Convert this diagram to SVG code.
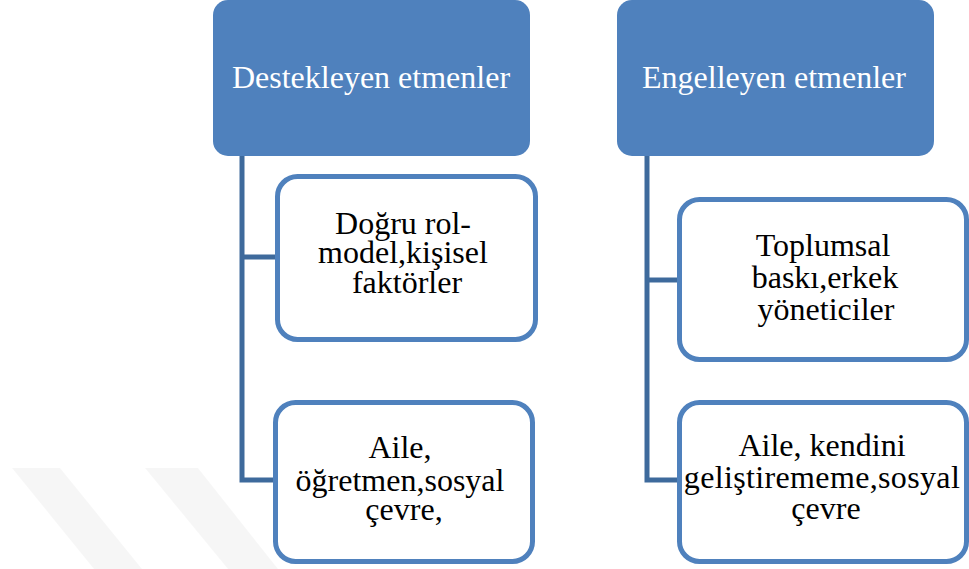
<svg xmlns="http://www.w3.org/2000/svg" width="969" height="569" viewBox="0 0 969 569">
  <style>
    .head { fill: #4F81BD; }
    .head-text { fill: #FFFFFF; font-family: "Liberation Serif", "Times New Roman", serif; font-size: 32px; text-anchor: middle; }
    .item { fill: #FFFFFF; stroke: #4F81BD; stroke-width: 5; }
    .item-text { fill: #000000; font-family: "Liberation Serif", "Times New Roman", serif; font-size: 32px; text-anchor: middle; }
    .link { fill: none; stroke: #3E6A9C; stroke-width: 5; stroke-linejoin: miter; }
    .mark { fill: #000000; opacity: 0.035; }
  </style>

  <rect width="969" height="569" fill="#FFFFFF"/>

  <!-- faint background stripes -->
  <g id="background">
    <polygon class="mark" points="12,468 60,468 142,569 94,569"/>
    <polygon class="mark" points="145,468 198,468 278,569 228,569"/>
  </g>

  <!-- connectors -->
  <g id="connectors">
    <path class="link" d="M242,156 V480 H276"/>
    <path class="link" d="M242,257 H278"/>
    <path class="link" d="M647,156 V480 H678"/>
    <path class="link" d="M647,280 H678"/>
  </g>

  <!-- left column -->
  <g id="destekleyen">
    <rect class="head" x="213" y="0" width="317" height="156" rx="15" ry="15"/>
    <text class="head-text" x="371" y="88">Destekleyen etmenler</text>
  </g>

  <g id="dogru-rol-model">
    <rect class="item" x="277.5" y="176.5" width="258" height="163" rx="20" ry="20"/>
    <text class="item-text">
      <tspan x="407" y="234">Doğru rol-</tspan>
      <tspan x="407" y="263">model,kişisel</tspan>
      <tspan x="407" y="293">faktörler</tspan>
    </text>
  </g>

  <g id="aile-ogretmen">
    <rect class="item" x="275.5" y="402.5" width="257" height="159" rx="20" ry="20"/>
    <text class="item-text">
      <tspan x="404" y="458">Aile,</tspan>
      <tspan x="404" y="491">öğretmen,sosyal</tspan>
      <tspan x="404" y="520">çevre,</tspan>
    </text>
  </g>

  <!-- right column -->
  <g id="engelleyen">
    <rect class="head" x="617" y="0" width="317" height="156" rx="15" ry="15"/>
    <text class="head-text" x="774" y="88">Engelleyen etmenler</text>
  </g>

  <g id="toplumsal-baski">
    <rect class="item" x="679.5" y="199.5" width="287" height="160" rx="20" ry="20"/>
    <text class="item-text">
      <tspan x="827" y="256">Toplumsal</tspan>
      <tspan x="829" y="288">baskı,erkek</tspan>
      <tspan x="826" y="320">yöneticiler</tspan>
    </text>
  </g>

  <g id="aile-kendini">
    <rect class="item" x="679.5" y="402.5" width="287" height="159" rx="20" ry="20"/>
    <text class="item-text">
      <tspan x="826" y="456">Aile, kendini</tspan>
      <tspan x="826" y="488" textLength="276" lengthAdjust="spacing">geliştirememe,sosyal</tspan>
      <tspan x="826" y="519">çevre</tspan>
    </text>
  </g>
</svg>
